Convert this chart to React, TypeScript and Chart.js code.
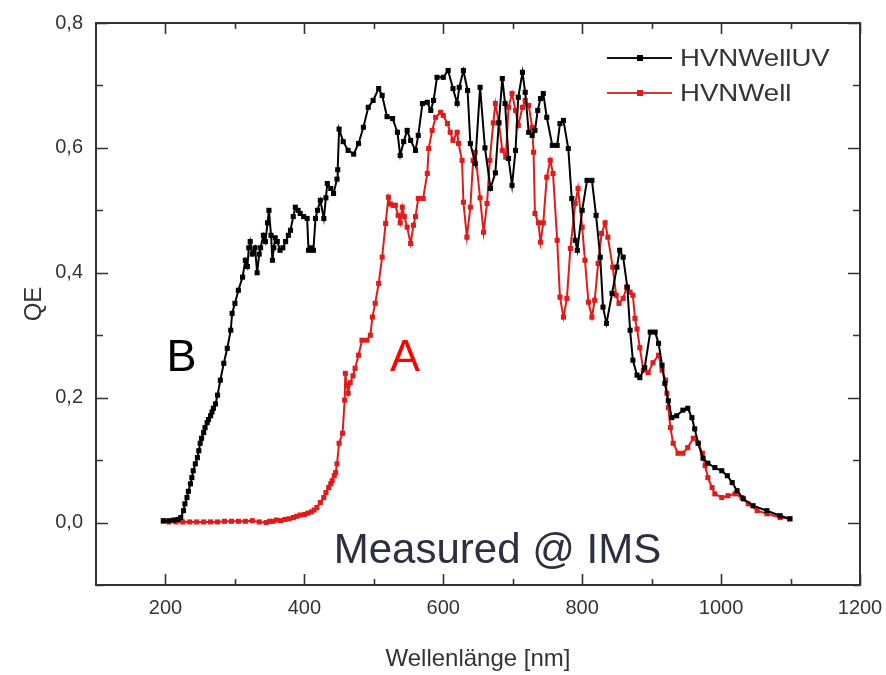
import React, { useEffect, useRef } from "react";
import { Chart, registerables } from "chart.js";

Chart.register(...registerables);

// ---- Data ----
const wlUV = [
  197, 205, 212, 218, 222, 226, 228, 231, 233, 236, 238, 240, 243, 246, 248, 250, 252, 255, 257, 260,
  262, 265, 267, 269, 272, 275, 279, 284, 289, 294, 296, 300, 305, 311, 315, 318, 320, 322, 325, 329,
  332, 335, 337, 341, 344, 347, 349, 352, 354, 356, 358, 361, 365, 369, 373, 377, 380, 384, 387, 391,
  394, 399, 404, 406, 410, 413, 416, 419, 423, 428, 431, 433, 438, 442, 447, 448, 450, 456, 463, 471,
  478, 485, 492, 499, 507, 512, 519, 527, 534, 538, 543, 548, 553, 560, 564, 570, 577, 582, 586, 591,
  600, 607, 614, 620, 623, 629, 635, 639, 646, 653, 660, 668, 675, 680, 685, 689, 694, 699, 704, 708,
  714, 718, 723, 728, 732, 736, 740, 744, 749, 757, 764, 768, 773, 780, 785, 790, 793, 800, 807, 814,
  820, 826, 830, 835, 843, 850, 854, 859, 865, 869, 873, 879, 883, 890, 898, 905, 910, 915, 919, 924,
  929, 936, 945, 952, 958, 962, 967, 974, 981, 991, 1001, 1009, 1016, 1023, 1032, 1046, 1066, 1085, 1099,
];
const qeUV = [
  0.003, 0.003, 0.004, 0.005, 0.008, 0.019, 0.03, 0.04, 0.05, 0.062, 0.072, 0.083, 0.094, 0.104, 0.115, 0.127, 0.135, 0.144, 0.152, 0.16,
  0.165, 0.171, 0.177, 0.183, 0.19, 0.204, 0.228, 0.255, 0.279, 0.308, 0.335, 0.351, 0.372, 0.393, 0.42, 0.41, 0.44, 0.45, 0.43, 0.44,
  0.40, 0.43, 0.44, 0.46, 0.45, 0.48, 0.50, 0.46, 0.42, 0.44, 0.456, 0.45, 0.436, 0.44, 0.45, 0.46, 0.468, 0.49, 0.505, 0.50,
  0.495, 0.49, 0.487, 0.436, 0.44, 0.436, 0.487, 0.50, 0.516, 0.487, 0.52, 0.543, 0.535, 0.527, 0.55, 0.565, 0.63, 0.61, 0.596, 0.59,
  0.607, 0.633, 0.665, 0.676, 0.695, 0.684, 0.65, 0.647, 0.625, 0.588, 0.61, 0.628, 0.612, 0.596, 0.62, 0.671, 0.673, 0.66, 0.676, 0.713,
  0.713, 0.724, 0.695, 0.671, 0.697, 0.724, 0.692, 0.607, 0.575, 0.697, 0.60, 0.535, 0.56, 0.64, 0.711, 0.671, 0.583, 0.54, 0.596, 0.681,
  0.721, 0.689, 0.625, 0.62, 0.628, 0.66, 0.679, 0.687, 0.649, 0.604, 0.604, 0.639, 0.644, 0.599, 0.519, 0.452, 0.436, 0.5, 0.548, 0.548,
  0.492, 0.425, 0.345, 0.319, 0.367, 0.409, 0.436, 0.425, 0.377, 0.308, 0.26, 0.236, 0.232, 0.248, 0.305, 0.305, 0.287, 0.252, 0.223, 0.195,
  0.168, 0.171, 0.18, 0.183, 0.168, 0.15, 0.127, 0.103, 0.095, 0.088, 0.083, 0.075, 0.064, 0.051, 0.038, 0.027, 0.019, 0.011, 0.006,
];

const wlW = [
  197, 205, 215, 225, 235, 245, 255, 265, 275, 285, 295, 305, 315, 325, 335, 345, 350, 355, 360, 366,
  372, 378, 384, 389, 394, 400, 405, 410, 414, 418, 423, 428, 431, 435, 438, 440, 443, 445, 447, 450,
  455, 458, 459, 461, 463, 466, 470, 473, 478, 483, 490, 495, 498, 502, 507, 512, 517, 521, 524, 528,
  531, 535, 538, 541, 544, 548, 553, 557, 560, 564, 571, 577, 579, 584, 589, 596, 600, 606, 610, 614,
  620, 622, 627, 629, 634, 639, 643, 646, 653, 658, 663, 667, 672, 675, 680, 685, 690, 694, 699, 704,
  708, 714, 718, 723, 728, 730, 732, 737, 740, 744, 749, 754, 758, 764, 768, 773, 778, 783, 790, 794,
  800, 804, 809, 814, 818, 823, 828, 833, 837, 844, 849, 853, 859, 864, 869, 873, 876, 879, 883, 888,
  895, 902, 910, 915, 920, 922, 924, 927, 931, 938, 945, 952, 960, 967, 973, 977, 981, 987, 991, 1001,
  1010, 1020, 1030, 1039, 1052, 1066, 1085, 1099,
];
const qeW = [
  0.002, 0.001, 0.001, 0.001, 0.001, 0.001, 0.001, 0.001, 0.001, 0.002, 0.002, 0.002, 0.002, 0.003, 0.001, 0.0, 0.002, 0.002, 0.004, 0.003,
  0.005, 0.006, 0.008, 0.01, 0.012, 0.013, 0.015, 0.017, 0.02, 0.024, 0.032, 0.04, 0.048, 0.056, 0.062, 0.067, 0.075, 0.08, 0.094, 0.127,
  0.143, 0.196, 0.239, 0.22, 0.207, 0.224, 0.235, 0.247, 0.268, 0.292, 0.292, 0.3, 0.329, 0.351, 0.383, 0.425, 0.479, 0.521, 0.51, 0.508,
  0.508, 0.492, 0.48, 0.505, 0.49, 0.473, 0.447, 0.476, 0.49, 0.519, 0.519, 0.559, 0.599, 0.628, 0.649, 0.657, 0.652, 0.639, 0.625, 0.612,
  0.625, 0.607, 0.58, 0.513, 0.457, 0.505, 0.58, 0.593, 0.52, 0.465, 0.511, 0.58, 0.64, 0.671, 0.641, 0.596, 0.585, 0.665, 0.687, 0.66,
  0.636, 0.665, 0.676, 0.668, 0.633, 0.593, 0.495, 0.48, 0.449, 0.48, 0.553, 0.58, 0.559, 0.452, 0.361, 0.329, 0.359, 0.439, 0.511, 0.535,
  0.473, 0.42, 0.353, 0.329, 0.356, 0.415, 0.463, 0.48, 0.457, 0.409, 0.364, 0.351, 0.359, 0.377, 0.369, 0.364, 0.327, 0.31, 0.28, 0.244,
  0.24, 0.256, 0.268, 0.244, 0.228, 0.207, 0.184, 0.152, 0.127, 0.111, 0.111, 0.12, 0.135, 0.127, 0.111, 0.091, 0.072, 0.056, 0.046, 0.04,
  0.043, 0.046, 0.04, 0.03, 0.019, 0.014, 0.008, 0.006,
];

const seriesNames = ["HVNWellUV", "HVNWell"];
const xMajorTicks = [200, 400, 600, 800, 1000, 1200];
const xMinorTicks = [300, 500, 700, 900, 1100];
const yMajorTicks = [0, 0.2, 0.4, 0.6, 0.8];
const yMinorTicks = [-0.1, 0.1, 0.3, 0.5, 0.7];

const BLACK = "#000000";
const RED = "#e31a1a";
const AXIS = "#333333";
const FONT = '"Liberation Sans", Arial, sans-serif';

const decorPlugin = {
  id: "decor",
  afterDatasetsDraw(chart: any) {
    const { ctx, chartArea, scales } = chart;
    const { left, right, top, bottom } = chartArea;
    const x = scales.x;
    const y = scales.y;
    ctx.save();
    // frame
    ctx.strokeStyle = AXIS;
    ctx.lineWidth = 2;
    ctx.strokeRect(left, top, right - left, bottom - top);
    ctx.lineWidth = 1.6;
    const tickX = (v: number, len: number) => {
      const px = Math.round(x.getPixelForValue(v)) + 0.5;
      ctx.beginPath();
      ctx.moveTo(px, bottom);
      ctx.lineTo(px, bottom - len);
      ctx.moveTo(px, top);
      ctx.lineTo(px, top + len);
      ctx.stroke();
    };
    const tickY = (v: number, len: number) => {
      const py = Math.round(y.getPixelForValue(v)) + 0.5;
      ctx.beginPath();
      ctx.moveTo(left, py);
      ctx.lineTo(left + len, py);
      ctx.moveTo(right, py);
      ctx.lineTo(right - len, py);
      ctx.stroke();
    };
    xMajorTicks.forEach((v) => tickX(v, 11));
    xMinorTicks.forEach((v) => tickX(v, 6));
    yMajorTicks.forEach((v) => tickY(v, 12));
    yMinorTicks.forEach((v) => tickY(v, 7));

    // annotations
    ctx.textAlign = "center";
    ctx.textBaseline = "middle";
    ctx.font = `45px ${FONT}`;
    ctx.fillStyle = BLACK;
    ctx.fillText("B", x.getPixelForValue(223), y.getPixelForValue(0.263));
    ctx.fillStyle = "#ff0000";
    ctx.fillText("A", x.getPixelForValue(545), y.getPixelForValue(0.263));
    ctx.fillStyle = "#2e3040";
    ctx.font = `42px ${FONT}`;
    ctx.fillText("Measured @ IMS", x.getPixelForValue(678), y.getPixelForValue(-0.046));

    // legend
    const items = [
      { name: seriesNames[0], color: BLACK, line: "#111111", yy: 58 },
      { name: seriesNames[1], color: RED, line: "#d23a3a", yy: 93 },
    ];
    items.forEach((it) => {
      ctx.strokeStyle = it.line;
      ctx.lineWidth = 2.2;
      ctx.beginPath();
      ctx.moveTo(607, it.yy);
      ctx.lineTo(672, it.yy);
      ctx.stroke();
      ctx.fillStyle = it.color;
      ctx.fillRect(637, it.yy - 3, 6, 6);
      ctx.save();
      ctx.translate(680, it.yy + 8);
      ctx.scale(1.15, 1);
      ctx.fillStyle = AXIS;
      ctx.textAlign = "left";
      ctx.textBaseline = "alphabetic";
      ctx.font = `24px ${FONT}`;
      ctx.fillText(it.name, 0, 0);
      ctx.restore();
    });
    ctx.restore();
  },
};

export default function App() {
  const ref = useRef<HTMLCanvasElement | null>(null);
  useEffect(() => {
    if (!ref.current) return;
    const tickFont = { family: FONT, size: 20 };
    const common = {
      showLine: true,
      borderWidth: 2,
      pointStyle: "rect",
      pointRadius: 3.6,
      pointBorderWidth: 0,
    };
    const chart = new Chart(ref.current, {
      type: "scatter",
      data: {
        datasets: [
          {
            ...common,
            label: seriesNames[0],
            data: wlUV.map((v, i) => ({ x: v, y: qeUV[i] })),
            borderColor: BLACK,
            backgroundColor: BLACK,
          },
          {
            ...common,
            label: seriesNames[1],
            data: wlW.map((v, i) => ({ x: v, y: qeW[i] })),
            borderColor: RED,
            backgroundColor: RED,
          },
        ],
      },
      options: {
        responsive: false,
        animation: false,
        layout: { padding: { left: 0, top: 23, right: 26, bottom: 0 } },
        plugins: { legend: { display: false }, tooltip: { enabled: false } },
        scales: {
          x: {
            type: "linear",
            min: 100,
            max: 1200,
            grid: { display: false, drawTicks: false },
            border: { display: false },
            afterBuildTicks: (s: any) => {
              s.ticks = xMajorTicks.map((v) => ({ value: v }));
            },
            afterFit: (s: any) => {
              s.height = 90;
              s.paddingLeft = 0;
              s.paddingRight = 0;
            },
            ticks: {
              padding: 11,
              color: AXIS,
              font: tickFont,
              maxRotation: 0,
              callback: (v: any) => String(v),
            },
            title: {
              display: true,
              text: "Wellenlänge [nm]",
              color: AXIS,
              font: { family: FONT, size: 24 },
              padding: { top: 0, bottom: 1 },
            },
          },
          y: {
            type: "linear",
            min: -0.1,
            max: 0.8,
            grid: { display: false, drawTicks: false },
            border: { display: false },
            afterBuildTicks: (s: any) => {
              s.ticks = yMajorTicks.map((v) => ({ value: v }));
            },
            afterFit: (s: any) => {
              s.width = 96;
              s.paddingTop = 0;
              s.paddingBottom = 0;
            },
            ticks: {
              padding: 13,
              color: AXIS,
              font: tickFont,
              callback: (v: any) => Number(v).toFixed(1).replace(".", ","),
            },
            title: {
              display: true,
              text: "QE",
              color: AXIS,
              font: { family: FONT, size: 24 },
              padding: { top: 20, bottom: 0 },
            },
          },
        },
      },
      plugins: [decorPlugin],
    } as any);
    return () => chart.destroy();
  }, []);
  return (
    <div style={{ position: "absolute", left: 0, top: 0, width: 886, height: 675, background: "#fff" }}>
      <canvas ref={ref} width={886} height={675} style={{ width: 886, height: 675, display: "block" }} />
    </div>
  );
}
